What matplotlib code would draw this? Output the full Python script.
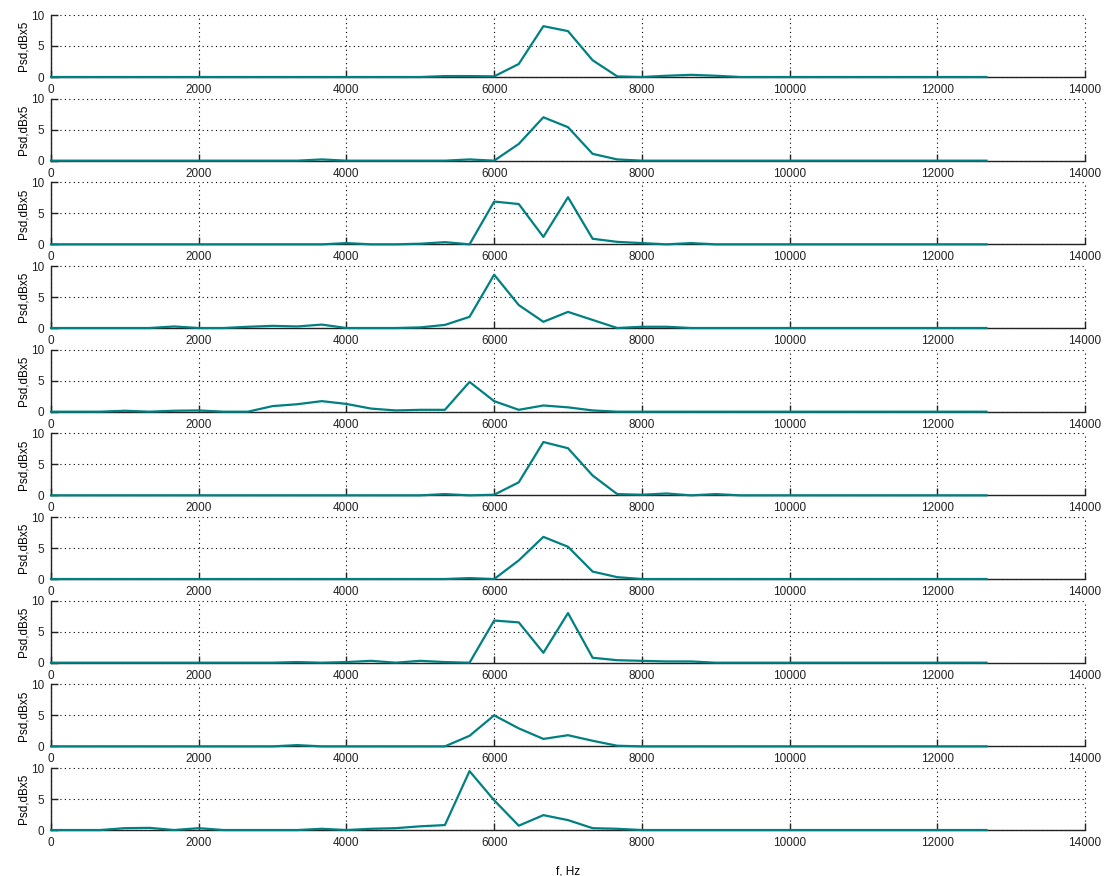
import numpy as np
import matplotlib.pyplot as plt

plt.rcParams['font.family'] = ['Liberation Sans', 'DejaVu Sans']

# frequency bins, 1/3 kHz apart (0 .. 12667 Hz)
freq = np.arange(39) * 1000.0 / 3.0

# psd values per frame (dB x5); bins not listed are 0
frame1 = {16: 0.15, 17: 0.15, 18: 0.1, 19: 2.1, 20: 8.2, 21: 7.4, 22: 2.7, 23: 0.1,
          25: 0.2, 26: 0.35, 27: 0.2}
frame2 = {11: 0.2, 17: 0.2, 18: 0.0, 19: 2.7, 20: 7.0, 21: 5.4, 22: 1.1, 23: 0.2}
frame3 = {12: 0.2, 15: 0.1, 16: 0.35, 17: 0.0, 18: 6.9, 19: 6.5, 20: 1.2, 21: 7.6,
          22: 0.9, 23: 0.4, 24: 0.2, 26: 0.2}
frame4 = {5: 0.25, 8: 0.2, 9: 0.35, 10: 0.25, 11: 0.55, 15: 0.1, 16: 0.5, 17: 1.8,
          18: 8.6, 19: 3.7, 20: 1.0, 21: 2.6, 22: 1.3, 24: 0.2, 25: 0.2}
frame5 = {3: 0.15, 5: 0.15, 6: 0.2, 9: 0.9, 10: 1.2, 11: 1.7, 12: 1.25, 13: 0.5,
          14: 0.2, 15: 0.3, 16: 0.3, 17: 4.8, 18: 1.7, 19: 0.3, 20: 1.0, 21: 0.7,
          22: 0.2}
frame6 = {16: 0.2, 18: 0.1, 19: 2.1, 20: 8.6, 21: 7.6, 22: 3.2, 23: 0.2, 24: 0.1,
          25: 0.3, 27: 0.2}
frame7 = {17: 0.15, 18: 0.0, 19: 3.0, 20: 6.8, 21: 5.2, 22: 1.2, 23: 0.3}
frame8 = {10: 0.1, 12: 0.1, 13: 0.3, 15: 0.3, 16: 0.1, 17: 0.0, 18: 6.8, 19: 6.5,
          20: 1.6, 21: 8.0, 22: 0.8, 23: 0.4, 24: 0.3, 25: 0.2, 26: 0.2}
frame9 = {10: 0.2, 16: 0.0, 17: 1.7, 18: 5.0, 19: 2.9, 20: 1.2, 21: 1.8, 22: 0.9,
          23: 0.1}
frame10 = {3: 0.3, 4: 0.35, 6: 0.3, 11: 0.2, 13: 0.2, 14: 0.3, 15: 0.6, 16: 0.8,
           17: 9.5, 18: 4.8, 19: 0.7, 20: 2.4, 21: 1.6, 22: 0.3, 23: 0.2}

frames = [frame1, frame2, frame3, frame4, frame5,
          frame6, frame7, frame8, frame9, frame10]

W, H = 1106, 876
fig = plt.figure(figsize=(W / 100, H / 100), dpi=100)

left, right = 51, 1085
top0, pitch, height = 15, 83.67, 62

for i, fr in enumerate(frames):
    psd = np.zeros(len(freq))
    for k, v in fr.items():
        psd[k] = v
    top = top0 + pitch * i
    ax = fig.add_axes([left / W, 1 - (top + height) / H,
                       (right - left) / W, height / H])
    ax.plot(freq, psd, color='#008080', lw=1.6, zorder=3, clip_on=False)
    ax.set_xlim(0, 14000)
    ax.set_ylim(0, 10)
    ax.set_xticks(np.arange(0, 14001, 2000))
    ax.set_yticks([0, 5, 10])
    ax.grid(True, color='black', linestyle=(0, (1, 3)), linewidth=0.8)
    for gl in ax.get_xgridlines() + ax.get_ygridlines():
        gl.set_clip_on(False)
    for s in ['top', 'right']:
        ax.spines[s].set_visible(False)
    for s in ['left', 'bottom']:
        ax.spines[s].set_color('#222222')
        ax.spines[s].set_linewidth(1.0)
    ax.tick_params(direction='in', length=5, width=1, labelsize=8.5,
                   colors='#222222', pad=5)
    ax.set_ylabel('Psd,dBx5', fontsize=8.5, labelpad=1)

ax.set_xlabel('f, Hz', fontsize=8.5, labelpad=12)

fig.savefig('out.png', dpi=100)
